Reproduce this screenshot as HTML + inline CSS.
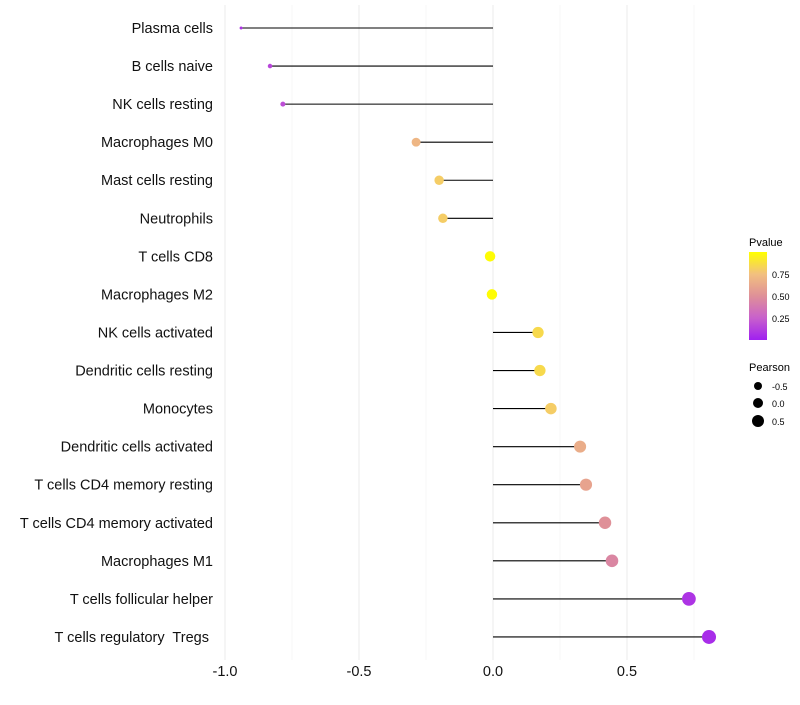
<!DOCTYPE html>
<html><head><meta charset="utf-8"><style>
body{margin:0;background:#fff;font-family:"Liberation Sans",sans-serif}
svg text{font-family:"Liberation Sans",sans-serif;white-space:pre}
</style></head><body>
<svg id="c" width="800" height="700" xmlns="http://www.w3.org/2000/svg">
<defs><linearGradient id="pg" x1="0" y1="1" x2="0" y2="0">
<stop offset="0" stop-color="#a020f0"/><stop offset="0.25" stop-color="#c860cc"/><stop offset="0.5" stop-color="#df9098"/><stop offset="0.75" stop-color="#f2c07f"/><stop offset="1" stop-color="#ffff00"/></linearGradient></defs>
<g id="grid"></g><g id="marks"></g><g id="labels"></g>
<g>
<text x="749" y="246" font-size="11">Pvalue</text>
<rect x="749" y="252" width="18" height="88" fill="url(#pg)"/>
<text x="772" y="278" font-size="9">0.75</text>
<text x="772" y="300" font-size="9">0.50</text>
<text x="772" y="322" font-size="9">0.25</text>
</g>
<g>
<text x="749" y="371" font-size="11">Pearson</text>
<circle cx="758" cy="386" r="4"/><text x="772" y="390" font-size="9">-0.5</text>
<circle cx="758" cy="403" r="5"/><text x="772" y="407" font-size="9">0.0</text>
<circle cx="758" cy="421" r="6"/><text x="772" y="425" font-size="9">0.5</text>
</g>
</svg>
<script>
const categories=["Plasma cells","B cells naive","NK cells resting","Macrophages M0","Mast cells resting","Neutrophils","T cells CD8","Macrophages M2","NK cells activated","Dendritic cells resting","Monocytes","Dendritic cells activated","T cells CD4 memory resting","T cells CD4 memory activated","Macrophages M1","T cells follicular helper","T cells regulatory  Tregs "];
const pearson=[-0.94,-0.832,-0.784,-0.287,-0.201,-0.187,-0.011,-0.004,0.168,0.175,0.216,0.325,0.347,0.418,0.444,0.731,0.806];
const pvalue=[0.08,0.15,0.18,0.7,0.8,0.8,0.99,0.99,0.85,0.85,0.8,0.65,0.6,0.5,0.45,0.08,0.05];
const xTicks=[-1,-0.5,0,0.5];
const xTickLabels=["-1.0","-0.5","0.0","0.5"];
const NS="http://www.w3.org/2000/svg";
const xs=v=>493+v*268;
const ys=i=>28+i*38.06;
const rs=p=>Math.sqrt(Math.max(1,27.5+26.9*p));
const stops=[[0,[160,32,240]],[0.25,[200,96,204]],[0.5,[223,144,152]],[0.75,[242,192,127]],[1,[255,255,0]]];
function col(p){for(let i=0;i<stops.length-1;i++){const a=stops[i],b=stops[i+1];if(p<=b[0]){const t=(p-a[0])/(b[0]-a[0]);return 'rgb('+a[1].map((c,k)=>Math.round(c+(b[1][k]-c)*t)).join(',')+')';}}return 'rgb(255,255,0)';}
function mk(t,a,parent){const e=document.createElementNS(NS,t);for(const k in a)e.setAttribute(k,a[k]);parent.appendChild(e);return e;}
const grid=document.getElementById('grid'),marks=document.getElementById('marks'),labels=document.getElementById('labels');
for(let v=-0.75;v<=0.75;v+=0.5){const g=mk('line',{x1:xs(v),x2:xs(v),y1:5,y2:660,stroke:'#f2f2f2','stroke-width':0.6},grid);

}
xTicks.forEach((v,i)=>{const g=mk('line',{x1:xs(v),x2:xs(v),y1:5,y2:660,stroke:'#ebebeb','stroke-width':1},grid);


const t=mk('text',{x:xs(v),y:676,'font-size':14.5,'text-anchor':'middle',fill:'#111'},labels);t.textContent=xTickLabels[i];

});
categories.forEach((c,i)=>{const y=ys(i);
const t=mk('text',{x:213,y:y+5,'font-size':14.5,'text-anchor':'end',fill:'#111'},labels);t.textContent=c;


const l=mk('line',{x1:xs(0),x2:xs(pearson[i]),y1:y,y2:y,stroke:'#000','stroke-width':1.1},marks);


const d=mk('circle',{cx:xs(pearson[i]),cy:y,r:rs(pearson[i]),fill:col(pvalue[i])},marks);


});
</script>
</body></html>
